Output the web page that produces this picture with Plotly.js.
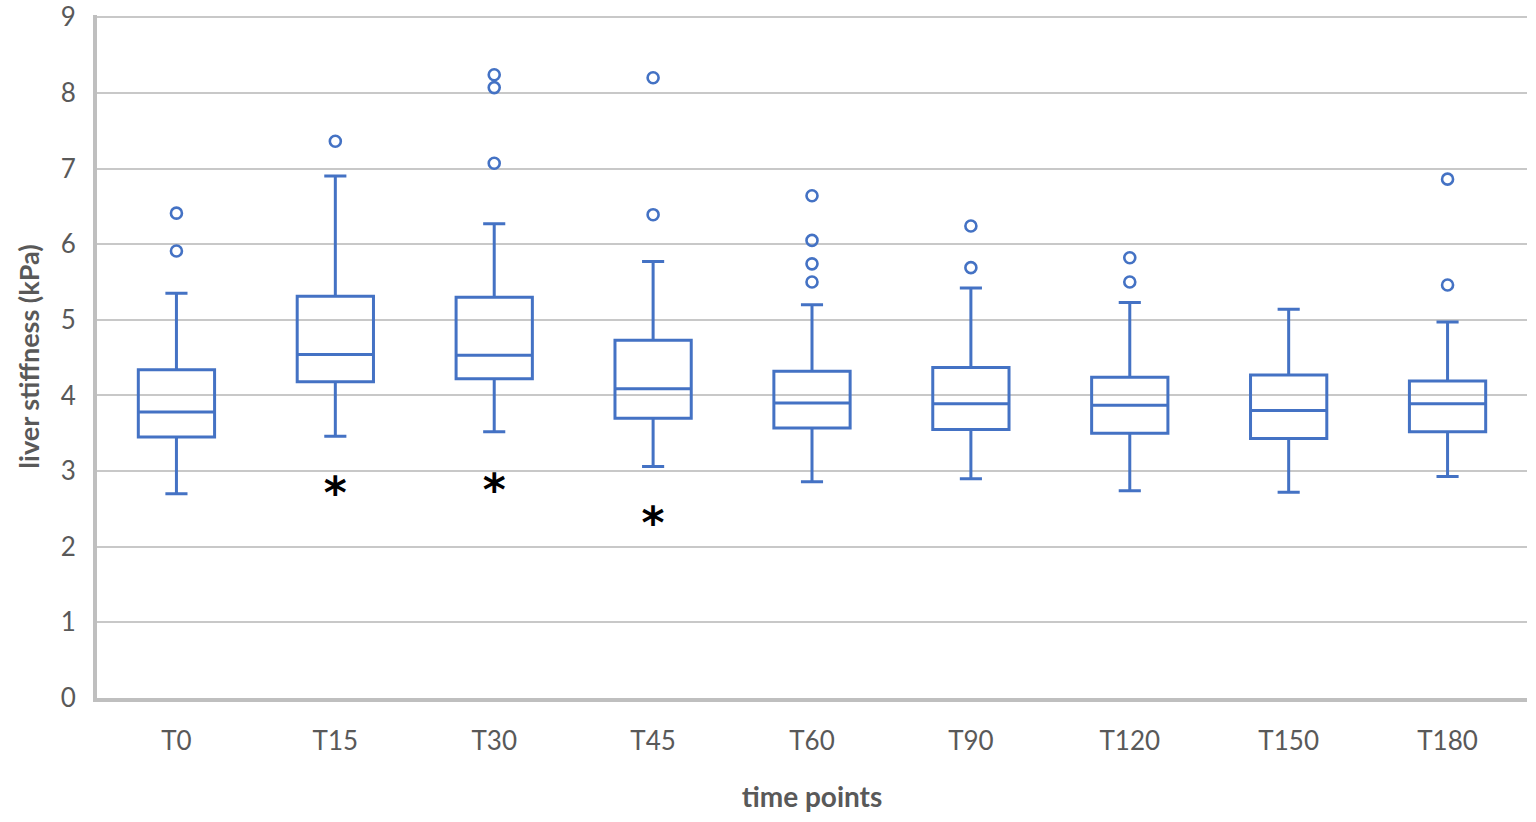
<!DOCTYPE html>
<html>
<head>
<meta charset="utf-8">
<script src="https://cdn.plot.ly/plotly-3.0.1.min.js"></script>
<style>
  html, body { margin: 0; padding: 0; background: #fff; }
  #chart { width: 1536px; height: 822px; }
</style>
</head>
<body>
<div id="chart"></div>
<script>
// time points and box statistics (kPa)
var timePoints = ['T0', 'T15', 'T30', 'T45', 'T60', 'T90', 'T120', 'T150', 'T180'];
var lowerWhisker = [2.70, 3.46, 3.52, 3.06, 2.86, 2.90, 2.74, 2.72, 2.93];
var q1 = [3.45, 4.18, 4.22, 3.70, 3.57, 3.55, 3.50, 3.43, 3.52];
var median = [3.78, 4.54, 4.53, 4.09, 3.90, 3.89, 3.87, 3.80, 3.89];
var q3 = [4.34, 5.31, 5.30, 4.73, 4.32, 4.37, 4.24, 4.27, 4.19];
var upperWhisker = [5.35, 6.90, 6.27, 5.77, 5.20, 5.42, 5.23, 5.14, 4.97];

// outliers
var outlierTime = ['T0', 'T0', 'T15', 'T30', 'T30', 'T30', 'T45', 'T45',
	'T60', 'T60', 'T60', 'T60', 'T90', 'T90', 'T120', 'T120', 'T180', 'T180'];
var outlierValue = [6.41, 5.91, 7.36, 8.24, 8.07, 7.07, 8.20, 6.39,
	6.64, 6.05, 5.74, 5.50, 6.24, 5.69, 5.82, 5.50, 6.86, 5.46];

// significance marks
var starTime = ['T15', 'T30', 'T45'];
var starValue = [2.66, 2.70, 2.26];

var BLUE = '#4472C4';
var GREY = '#595959';

var boxes = {
	type: 'box',
	x: timePoints,
	lowerfence: lowerWhisker,
	q1: q1,
	median: median,
	q3: q3,
	upperfence: upperWhisker,
	boxpoints: false,
	fillcolor: 'rgba(255,255,255,0)',
	line: {color: BLUE, width: 3},
	whiskerwidth: 0.29,
	hoverinfo: 'skip',
	showlegend: false
};

var outliers = {
	type: 'scatter',
	mode: 'markers',
	x: outlierTime,
	y: outlierValue,
	marker: {symbol: 'circle-open', size: 11, color: BLUE, line: {color: BLUE, width: 2.6}},
	cliponaxis: false,
	showlegend: false
};

var stars = {
	type: 'scatter',
	mode: 'text',
	x: starTime,
	y: starValue,
	text: starTime.map(function() { return '<b>*</b>'; }),
	textposition: 'middle center',
	textfont: {family: 'DejaVu Sans', size: 44, color: '#000'},
	cliponaxis: false,
	showlegend: false
};

var layout = {
	width: 1536,
	height: 822,
	margin: {l: 97, r: 9, t: 15, b: 124},
	paper_bgcolor: '#fff',
	plot_bgcolor: '#fff',
	font: {family: 'Lato, "Open Sans", sans-serif', color: GREY, size: 26},
	boxgap: 0.52,
	boxgroupgap: 0,
	xaxis: {
		type: 'category',
		categoryorder: 'array',
		categoryarray: timePoints,
		showgrid: false,
		showline: true,
		linecolor: '#bfbfbf',
		linewidth: 4,
		ticks: '',
		ticklabelstandoff: 17,
		tickfont: {size: 26, color: GREY},
		zeroline: false,
		title: {text: '<b>time points</b>', font: {size: 28, color: GREY}, standoff: 33}
	},
	yaxis: {
		range: [0, 9.03],
		tickvals: [0, 1, 2, 3, 4, 5, 6, 7, 8, 9],
		ticklabeloverflow: 'allow',
		showgrid: true,
		gridcolor: '#c8c8c8',
		gridwidth: 2,
		showline: true,
		linecolor: '#bfbfbf',
		linewidth: 4,
		zeroline: false,
		ticks: '',
		ticklabelstandoff: 12,
		tickfont: {size: 26, color: GREY},
		title: {text: '<b>liver stiffness (kPa)</b>', font: {size: 27, color: GREY}, standoff: 14}
	}
};

Plotly.newPlot('chart', [boxes, outliers, stars], layout, {displayModeBar: false, staticPlot: true});
</script>
</body>
</html>
